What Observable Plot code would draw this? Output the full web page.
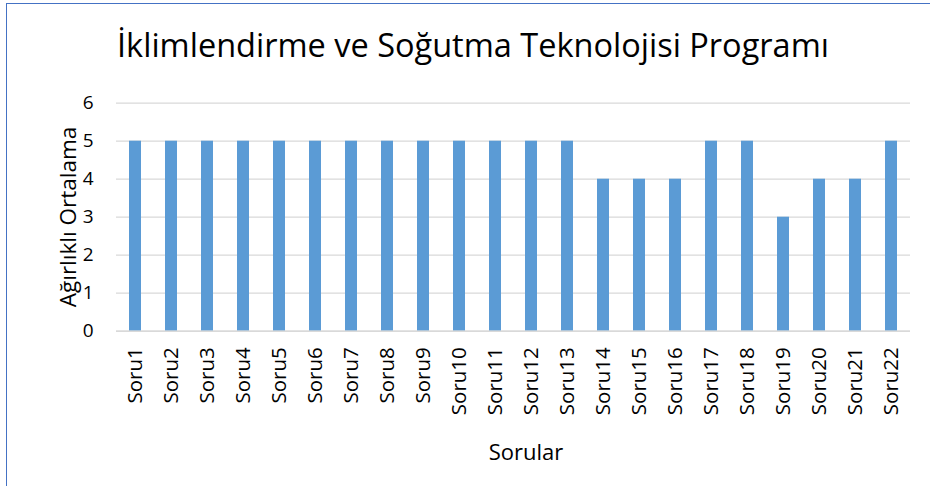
<!DOCTYPE html>
<html>
<head>
<meta charset="utf-8">
<script src="https://cdn.jsdelivr.net/npm/d3@7"></script>
<script src="https://cdn.jsdelivr.net/npm/@observablehq/plot@0.6"></script>
<style>
  body { margin: 0; background: #fff; }
  #wrap { position: relative; width: 930px; height: 486px; overflow: hidden; background: #fff; font-family: "Open Sans", sans-serif; color: #000; }
  #frame { position: absolute; left: 6px; top: 3px; width: 1000px; height: 600px; border-left: 1.5px solid #4472C4; border-top: 1.5px solid #4472C4; }
  #chart { position: absolute; left: 0; top: 0; }
  .t { position: absolute; white-space: nowrap; line-height: 1; }
  #title { left: 473px; top: 45px; font-size: 32.5px; transform: translate(-50%, -50%); }
  #ytitle { left: 68px; top: 217px; font-size: 22.5px; transform: translate(-50%, -50%) rotate(-90deg); }
  #xtitle { left: 526px; top: 451px; font-size: 22px; transform: translate(-50%, -50%); }
</style>
</head>
<body>
<div id="wrap">
  <div id="frame"></div>
  <div id="chart"></div>
  <div class="t" id="title"></div>
  <div class="t" id="ytitle"></div>
  <div class="t" id="xtitle"></div>
</div>
<script>
const titleText = "İklimlendirme ve Soğutma Teknolojisi Programı";
const yAxisTitle = "Ağırlıklı Ortalama";
const xAxisTitle = "Sorular";
const categories = ["Soru1","Soru2","Soru3","Soru4","Soru5","Soru6","Soru7","Soru8","Soru9","Soru10","Soru11","Soru12","Soru13","Soru14","Soru15","Soru16","Soru17","Soru18","Soru19","Soru20","Soru21","Soru22"];
const values = [5,5,5,5,5,5,5,5,5,5,5,5,5,4,4,4,5,5,3,4,4,5];
const yTicks = [0,1,2,3,4,5,6];

const data = categories.map((c, i) => ({soru: c, value: values[i]}));

document.getElementById("title").textContent = titleText;
document.getElementById("ytitle").textContent = yAxisTitle;
document.getElementById("xtitle").textContent = xAxisTitle;

const chart = Plot.plot({
  width: 930,
  height: 486,
  marginTop: 102.7,
  marginBottom: 155.3,
  marginLeft: 116,
  marginRight: 20,
  style: { fontFamily: "'Open Sans', sans-serif", fontSize: "19px", color: "#000", background: "transparent" },
  x: { domain: categories, paddingInner: 0.67, paddingOuter: 0.335, label: null },
  y: { domain: [0, 6], label: null },
  marks: [
    Plot.gridY(yTicks, { stroke: "#d9d9d9", strokeOpacity: 1, strokeWidth: 1.3 }),
    Plot.barY(data, { x: "soru", y: "value", fill: "#5B9BD5" }),
    Plot.ruleY([0], { stroke: "#d9d9d9", strokeWidth: 1.5 }),
    Plot.axisY(yTicks, { tickSize: 0, tickPadding: 23, label: null, fontSize: 19 }),
    Plot.axisX({ tickSize: 0, tickPadding: 16, tickRotate: -90, label: null, fontSize: 20.5 })
  ]
});
document.getElementById("chart").appendChild(chart);
</script>
</body>
</html>
